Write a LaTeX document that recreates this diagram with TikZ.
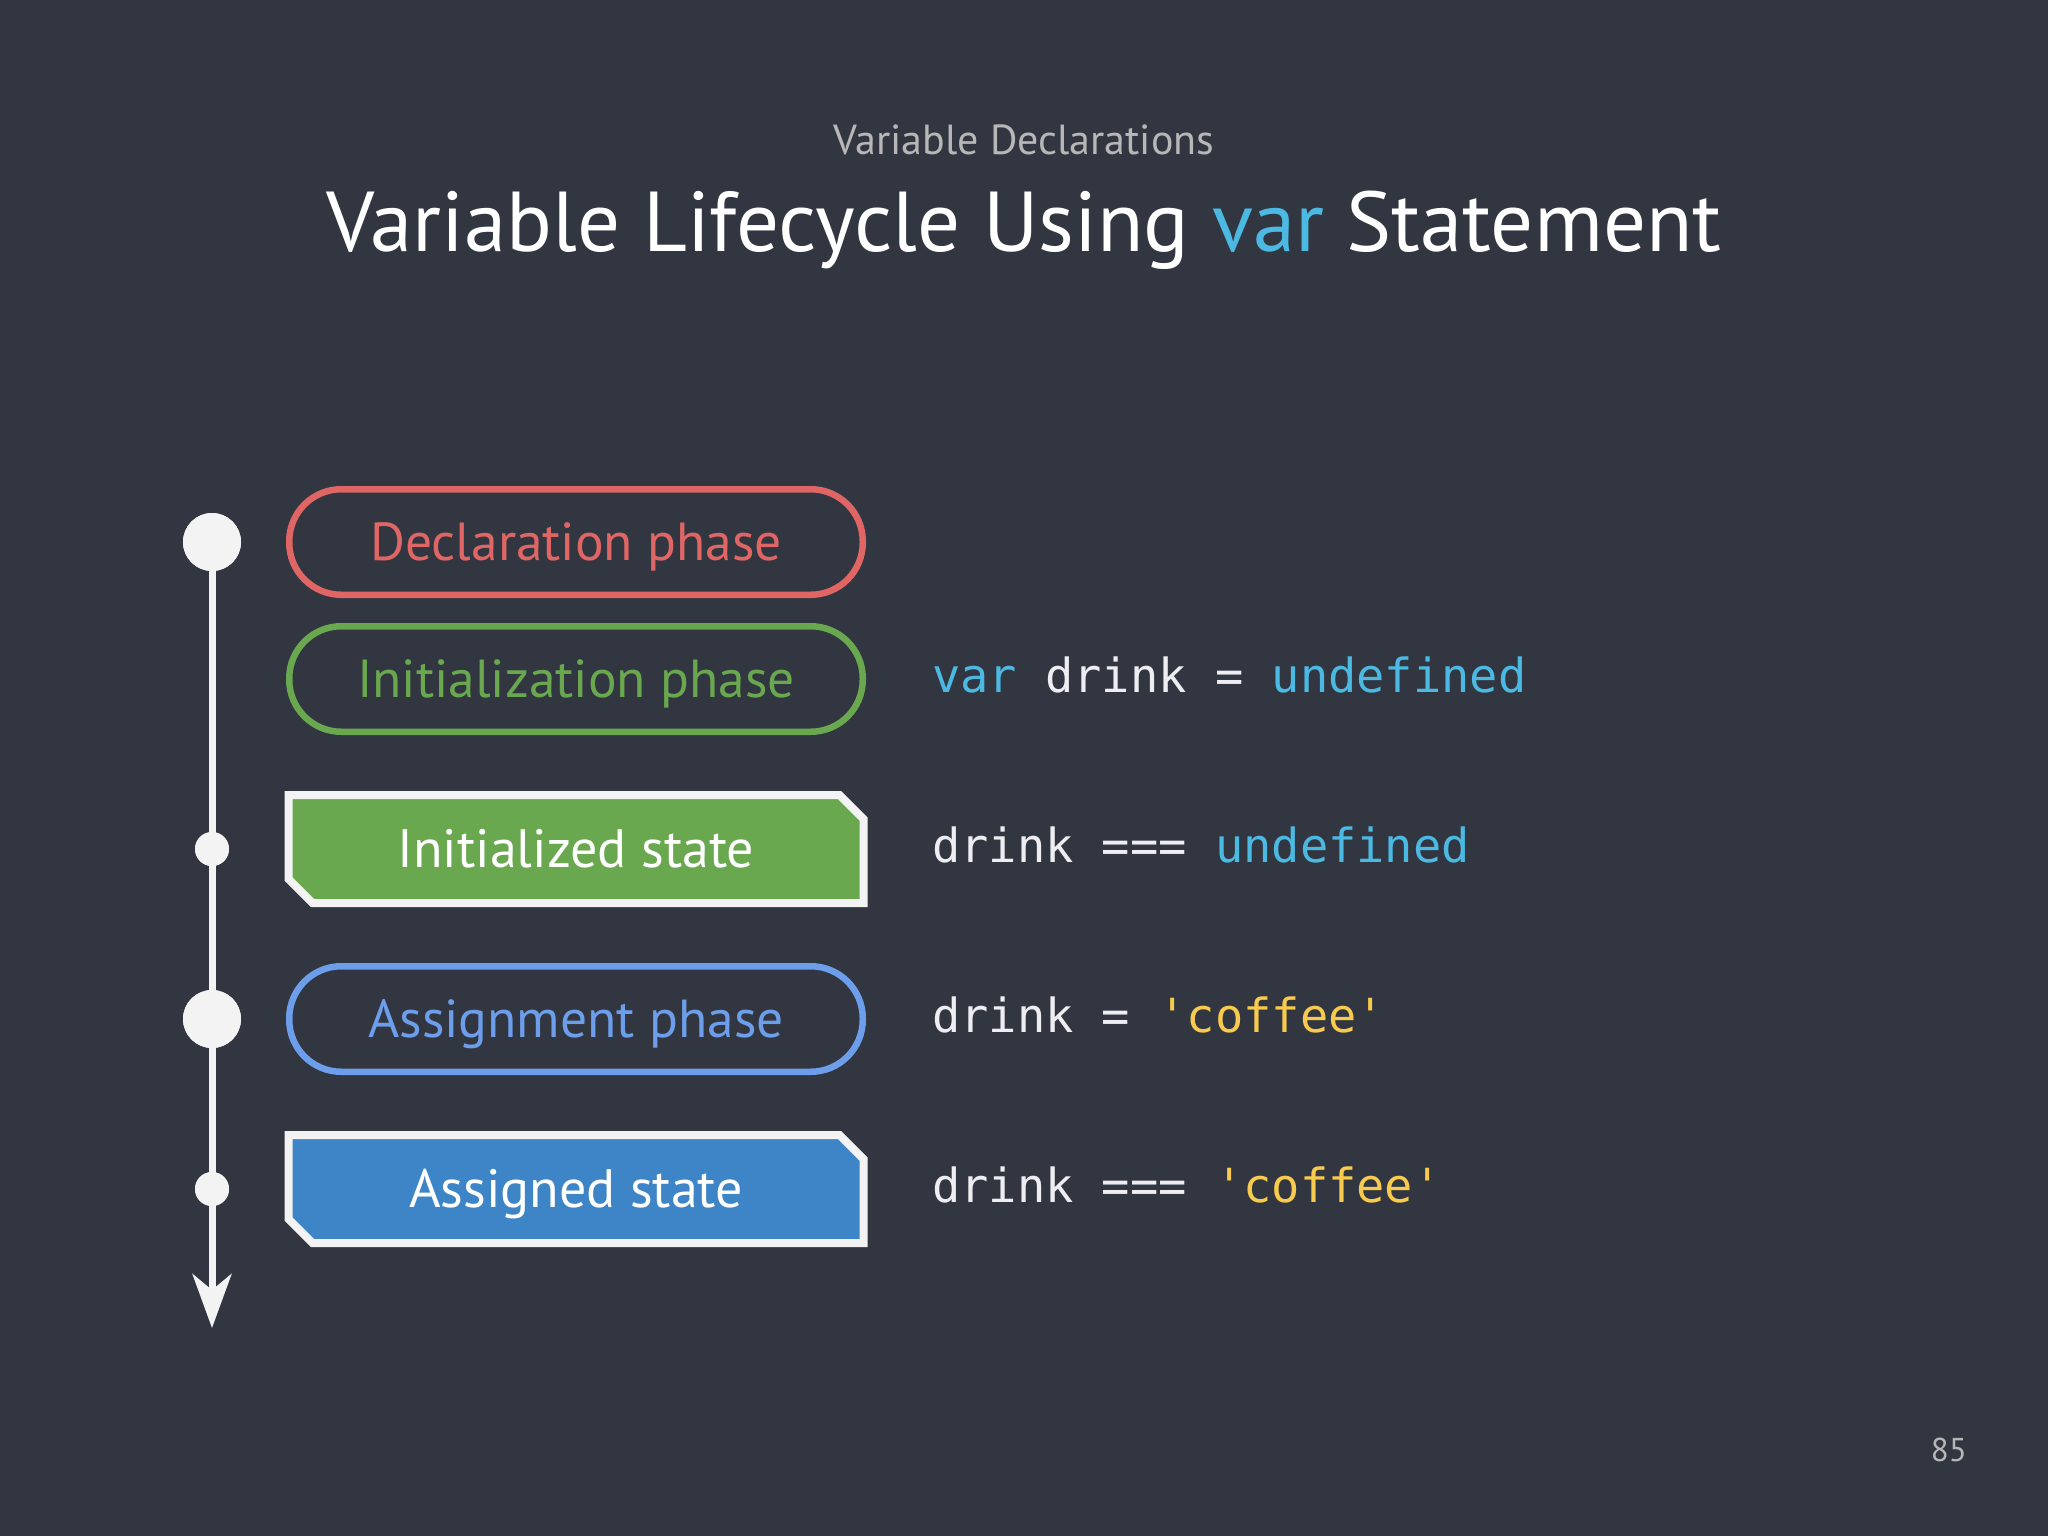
\documentclass[tikz,border=0pt]{standalone}
\usepackage{fontspec}
\setmainfont{PT Sans}
\setmonofont{DejaVu Sans Mono}
\usetikzlibrary{shapes.misc,arrows.meta}
\definecolor{bg}{HTML}{313640}
\definecolor{cred}{HTML}{E06666}
\definecolor{cgreen}{HTML}{6AA84F}
\definecolor{cblue}{HTML}{6D9EEB}
\definecolor{cbluefill}{HTML}{3D85C6}
\definecolor{ccyan}{HTML}{4CB9E2}
\definecolor{cyellow}{HTML}{F8CA4D}
\definecolor{cwhite}{HTML}{F3F3F3}
\definecolor{cgray}{HTML}{B7B7B7}
\definecolor{ccode}{HTML}{EEEEF2}
\tikzset{
  phasebox/.style={draw=#1, text=#1, line width=6.5pt, rounded corners=52pt,
    minimum width=573.5pt, minimum height=105.5pt, inner sep=0pt,
    text height=37pt, text depth=0pt,
    font=\fontsize{53.5}{64}\selectfont},
  statebox/.style={draw=cwhite, fill=#1, text=white, line width=8pt,
    shape=chamfered rectangle, chamfered rectangle corners={north east,south west},
    chamfered rectangle xsep=12pt, chamfered rectangle ysep=12pt,
    minimum width=575pt, minimum height=108pt, inner sep=0pt,
    text height=37pt, text depth=0pt,
    font=\fontsize{54}{64}\selectfont},
  bigdot/.style={circle, fill=cwhite, minimum size=58pt, inner sep=0pt},
  smalldot/.style={circle, fill=cwhite, minimum size=34pt, inner sep=0pt},
  codeline/.style={anchor=base west, inner sep=0pt, text=ccode,
    font=\fontsize{47}{56}\ttfamily},
}
\begin{document}
\begin{tikzpicture}[x=1pt,y=-1pt]
\fill[bg] (0,0) rectangle (2048,1536);
\useasboundingbox (0,0) rectangle (2048,1536);
% titles
\node[anchor=base, text=cgray, inner sep=0pt, font=\fontsize{42}{50}\selectfont] (sub) at (1024,154) {Variable Declarations};
\node[anchor=base, text=white, inner sep=0pt, font=\fontsize{85}{96}\selectfont] (title) at (1024,251) {Variable Lifecycle Using \textcolor{ccyan}{var} Statement};
% timeline
\node[bigdot] (d1) at (212,542) {};
\node[smalldot] (d2) at (212,849) {};
\node[bigdot] (d3) at (212,1019) {};
\node[smalldot] (d4) at (212,1189) {};
\coordinate (tend) at (212,1328);
\draw[cwhite, line width=7pt, -{Stealth[length=54pt, width=39pt, inset=16pt]}] (d1.center) -- (tend);
\node[bigdot] at (d1) {};
\node[smalldot] at (d2) {};
\node[bigdot] at (d3) {};
\node[smalldot] at (d4) {};
% boxes
\node[phasebox=cred] (decl) at (576,542) {Declaration phase};
\node[phasebox=cgreen] (init) at (576,679) {Initialization phase};
\node[statebox=cgreen] (inits) at (576,849) {Initialized state};
\node[phasebox=cblue] (assign) at (576,1019) {Assignment phase};
\node[statebox=cbluefill] (assigns) at (576,1189) {Assigned state};
% code
\node[codeline] (c1) at (932,692) {\textcolor{ccyan}{var} drink = \textcolor{ccyan}{undefined}};
\node[codeline] (c2) at (932,862) {drink === \textcolor{ccyan}{undefined}};
\node[codeline] (c3) at (932,1032) {drink = \textcolor{cyellow}{'coffee'}};
\node[codeline] (c4) at (932,1202) {drink === \textcolor{cyellow}{'coffee'}};
% page number
\node[anchor=base east, text=cgray, inner sep=0pt, font=\fontsize{33}{40}\selectfont] (pg) at (1967,1461) {85};
\end{tikzpicture}
\end{document}
